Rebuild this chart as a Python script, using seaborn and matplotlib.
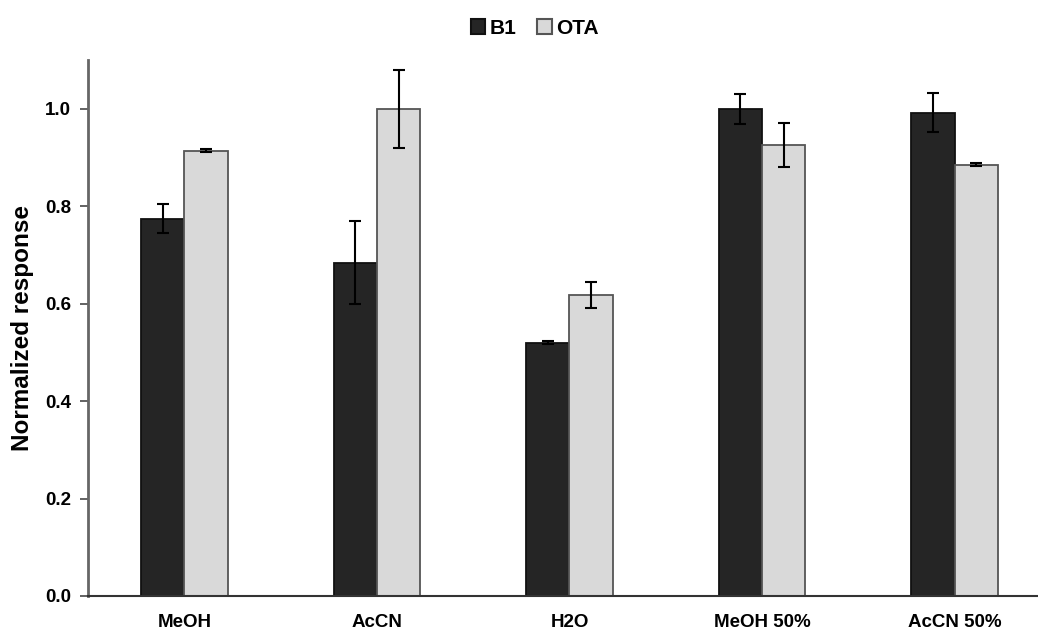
import pandas as pd
import numpy as np
import matplotlib.pyplot as plt
import seaborn as sns

solvents = ["MeOH", "AcCN", "H2O", "MeOH 50%", "AcCN 50%"]
b1 = [0.775, 0.684, 0.520, 1.000, 0.992]
b1_err = [0.030, 0.085, 0.003, 0.030, 0.040]
ota = [0.914, 1.000, 0.618, 0.926, 0.885]
ota_err = [0.003, 0.080, 0.027, 0.045, 0.003]

df = pd.DataFrame({
    "solvent": solvents * 2,
    "toxin": ["B1"] * 5 + ["OTA"] * 5,
    "response": b1 + ota,
    "err": b1_err + ota_err,
})

sns.set_style("white")
plt.rcParams['font.family'] = ['Liberation Sans', 'DejaVu Sans']
plt.rcParams['font.weight'] = 'bold'
plt.rcParams['text.color'] = 'black'
plt.rcParams['axes.labelcolor'] = 'black'
plt.rcParams['xtick.labelcolor'] = 'black'
plt.rcParams['ytick.labelcolor'] = 'black'

fig = plt.figure(figsize=(10.38, 6.34), dpi=100)
ax = fig.add_axes([0.0848, 0.06, 1.0125 - 0.0848, 0.845])

sns.barplot(data=df, x="solvent", y="response", hue="toxin",
            palette={"B1": "#252525", "OTA": "#d9d9d9"},
            width=0.45, errorbar=None, ax=ax, legend=True)

# edge colours and error bars from the drawn bars
edges = {"B1": "#111111", "OTA": "#555555"}
for cont, tox in zip(ax.containers, ["B1", "OTA"]):
    sub = df[df["toxin"] == tox]
    xs = []
    for p in cont.patches:
        p.set_edgecolor(edges[tox])
        p.set_linewidth(1.3)
        xs.append(p.get_x() + p.get_width() / 2)
    ax.errorbar(xs, sub["response"], yerr=sub["err"], fmt="none",
                ecolor="black", elinewidth=1.5, capsize=4, capthick=1.5, zorder=5)

ax.set_ylim(0, 1.1)
ax.set_xlim(-0.5, 4.5)
ax.set_yticks([0.0, 0.2, 0.4, 0.6, 0.8, 1.0])
ax.set_yticklabels([f"{v:.1f}" for v in [0.0, 0.2, 0.4, 0.6, 0.8, 1.0]])
ax.set_xticks(np.arange(-0.5, 5, 1), minor=True)
ax.tick_params(axis="x", which="major", length=0, pad=13, labelsize=13.5, labelcolor="black")
ax.tick_params(axis="x", which="minor", length=6, width=1.3, color="#333333", direction="out")
ax.tick_params(axis="y", length=6, width=1.3, color="#555555", direction="out",
               left=True, labelsize=13.5, pad=6, labelcolor="black")
for lab in ax.get_xticklabels() + ax.get_yticklabels():
    lab.set_fontweight("bold")

for s in ["top", "right"]:
    ax.spines[s].set_visible(False)
ax.spines["left"].set_color("#666666")
ax.spines["left"].set_linewidth(2)
ax.spines["bottom"].set_color("#333333")
ax.spines["bottom"].set_linewidth(1.5)

ax.set_xlabel("")
ax.set_ylabel("Normalized response", fontsize=17.5, fontweight="bold", labelpad=8, color="black")

handles, labels = ax.get_legend_handles_labels()
ax.get_legend().remove()
for h, tox in zip(handles, labels):
    h.set_edgecolor(edges[tox])
    h.set_linewidth(1.5)
fig.legend(handles, labels, loc="upper center", bbox_to_anchor=(0.515, 1.0),
           ncol=2, frameon=False, handlelength=0.7, handleheight=0.7,
           handletextpad=0.2, columnspacing=1.0, labelcolor="black",
           prop={"weight": "bold", "size": 15})

fig.savefig("out.png", dpi=100)
